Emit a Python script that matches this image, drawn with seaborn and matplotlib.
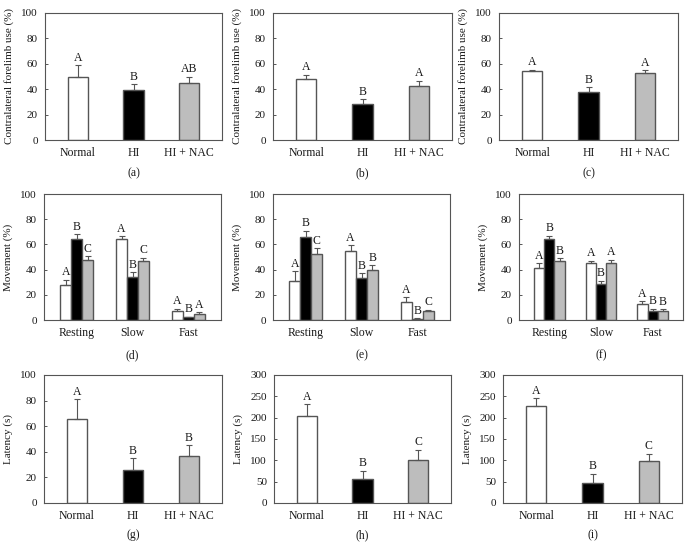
import matplotlib
matplotlib.use("Agg")
import matplotlib.pyplot as plt
import pandas as pd
import seaborn as sns

groups = ["Normal", "HI", "HI + NAC"]
phases = ["Resting", "Slow", "Fast"]

# forelimb use (%) : mean, sem, letter
fore_a = [50, 39.5, 44.5]
fore_a_err = [9, 4.5, 5.5]
fore_a_let = ["A", "B", "AB"]
fore_b = [48, 28, 42.5]
fore_b_err = [3.5, 4, 4]
fore_b_let = ["A", "B", "A"]
fore_c = [54, 37.5, 52.5]
fore_c_err = [1.5, 4, 2.5]
fore_c_let = ["A", "B", "A"]

# movement (%) per group, values in order Resting, Slow, Fast
move_d = {"Normal": [28, 64, 7.5], "HI": [64, 34, 2], "HI + NAC": [47.5, 47, 5]}
move_d_err = {"Normal": [4, 2.5, 1.5], "HI": [4, 4, 0.5], "HI + NAC": [3, 2.5, 1]}
move_d_let = {"Normal": ["A", "A", "A"], "HI": ["B", "B", "B"], "HI + NAC": ["C", "C", "A"]}
move_e = {"Normal": [31, 54.5, 14], "HI": [66, 33, 1], "HI + NAC": [52.5, 40, 7]}
move_e_err = {"Normal": [7.5, 5, 4], "HI": [5, 4, 0.5], "HI + NAC": [4.5, 3.5, 1]}
move_e_let = {"Normal": ["A", "A", "A"], "HI": ["B", "B", "B"], "HI + NAC": ["C", "B", "C"]}
move_f = {"Normal": [41, 45.5, 12.5], "HI": [64, 28.5, 7], "HI + NAC": [46.5, 45.5, 7]}
move_f_err = {"Normal": [4, 1.5, 2.5], "HI": [3, 2.5, 2], "HI + NAC": [2.5, 2.5, 1.5]}
move_f_let = {"Normal": ["A", "A", "A"], "HI": ["B", "B", "B"], "HI + NAC": ["B", "A", "B"]}

# latency (s)
lat_g = [66, 26, 36.5]
lat_g_err = [15, 9, 8.5]
lat_g_let = ["A", "B", "B"]
lat_h = [204, 56, 100]
lat_h_err = [27, 20, 25]
lat_h_let = ["A", "B", "C"]
lat_i = [227, 46, 98]
lat_i_err = [18, 23, 17]
lat_i_let = ["A", "B", "C"]

colors = {"Normal": "white", "HI": "black", "HI + NAC": "#bdbdbd"}
edge = "#555555"
txt = "#1a1a1a"

sns.set_style("white")
plt.rcParams["font.family"] = ["Liberation Serif", "DejaVu Serif"]

W, H = 687, 548
fig = plt.figure(figsize=(W / 100, H / 100), dpi=100)

def make_ax(l, r, t, b):
    return fig.add_axes([l / W, 1 - b / H, (r - l) / W, (b - t) / H])

def style(ax, ymax, step, ylabel):
    ax.set_xlim(-0.59, 2.59)
    ax.set_ylim(0, ymax)
    ax.set_yticks(range(0, ymax + 1, step))
    ax.set_xlabel("")
    ax.set_ylabel(ylabel, fontsize=8, color=txt, labelpad=5)
    ax.tick_params(axis="y", direction="in", length=2, width=0.7, color=edge,
                   labelsize=8, labelcolor=txt, pad=5, left=True)
    ax.tick_params(axis="x", length=0, labelsize=8.5, labelcolor=txt, pad=5)
    for s in ax.spines.values():
        s.set_color(edge)
        s.set_linewidth(0.8)
        s.set_visible(True)

def annotate(ax, containers, errs, lets, ymax):
    off = ymax * 0.012
    for cont, e_list, l_list in zip(containers, errs, lets):
        for bar, e, lt in zip(cont, e_list, l_list):
            xc = bar.get_x() + bar.get_width() / 2
            h = bar.get_height()
            ax.errorbar(xc, h, yerr=[[0], [e]], fmt="none", ecolor=edge,
                        elinewidth=0.8, capsize=2.5, capthick=0.8)
            ax.text(xc, h + e + off, lt, ha="center", va="bottom",
                    fontsize=8.5, color=txt)

def single(ax, vals, errs, lets, ymax, step, ylabel):
    df = pd.DataFrame({"group": groups, "value": vals})
    sns.barplot(data=df, x="group", y="value", hue="group", order=groups,
                hue_order=groups, palette=colors, edgecolor=edge, linewidth=1,
                width=0.36, errorbar=None, legend=False, ax=ax)
    style(ax, ymax, step, ylabel)
    annotate(ax, ax.containers, [[e] for e in errs], [[l] for l in lets], ymax)

def grouped(ax, vals, errs, lets, ylabel):
    rows = []
    for g in groups:
        for p, v in zip(phases, vals[g]):
            rows.append({"phase": p, "group": g, "value": v})
    df = pd.DataFrame(rows)
    sns.barplot(data=df, x="phase", y="value", hue="group", order=phases,
                hue_order=groups, palette=colors, edgecolor=edge, linewidth=1,
                width=0.59, errorbar=None, legend=False, ax=ax)
    style(ax, 100, 20, ylabel)
    annotate(ax, ax.containers, [errs[g] for g in groups],
             [lets[g] for g in groups], 100)

fore_lab = "Contralateral forelimb use (%)"
ax_a = make_ax(45, 222, 13, 140)
single(ax_a, fore_a, fore_a_err, fore_a_let, 100, 20, fore_lab)
ax_b = make_ax(273, 452, 13, 140)
single(ax_b, fore_b, fore_b_err, fore_b_let, 100, 20, fore_lab)
ax_c = make_ax(499, 678, 13, 140)
single(ax_c, fore_c, fore_c_err, fore_c_let, 100, 20, fore_lab)

ax_d = make_ax(44, 221, 194, 320)
grouped(ax_d, move_d, move_d_err, move_d_let, "Movement (%)")
ax_e = make_ax(273, 450, 194, 320)
grouped(ax_e, move_e, move_e_err, move_e_let, "Movement (%)")
ax_f = make_ax(519, 683, 194, 320)
grouped(ax_f, move_f, move_f_err, move_f_let, "Movement (%)")

ax_g = make_ax(44, 222, 375, 503)
single(ax_g, lat_g, lat_g_err, lat_g_let, 100, 20, "Latency (s)")
ax_h = make_ax(274, 451, 375, 503)
single(ax_h, lat_h, lat_h_err, lat_h_let, 300, 50, "Latency (s)")
ax_i = make_ax(503, 682, 375, 503)
single(ax_i, lat_i, lat_i_err, lat_i_let, 300, 50, "Latency (s)")

panels = [(ax_a, "(a)", 173), (ax_b, "(b)", 173), (ax_c, "(c)", 173),
          (ax_d, "(d)", 355), (ax_e, "(e)", 355), (ax_f, "(f)", 355),
          (ax_g, "(g)", 535), (ax_h, "(h)", 535), (ax_i, "(i)", 535)]
for ax, lab, ypx in panels:
    pos = ax.get_position()
    fig.text(pos.x0 + pos.width / 2, 1 - ypx / H, lab, ha="center",
             va="center", fontsize=8.5, color=txt)

fig.savefig("out.png", dpi=100)
